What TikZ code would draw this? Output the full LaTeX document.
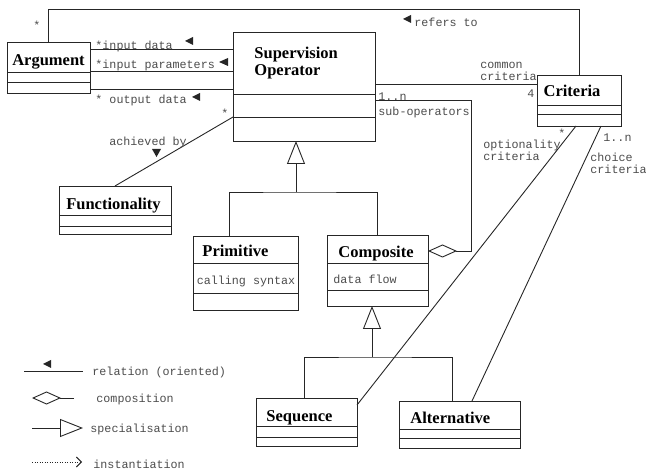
\documentclass[tikz,border=0pt]{standalone}
\usepackage{fontspec}
\setmainfont{Liberation Serif}
\setmonofont{Liberation Mono}
\usetikzlibrary{arrows.meta}

\begin{document}
\begin{tikzpicture}[x=1pt, y=-1pt, line width=0.9pt,
    cls/.style={draw=black!85, inner sep=0pt, outer sep=0pt},
    ttl/.style={font=\bfseries\fontsize{16.5}{17}\selectfont, inner sep=0pt},
    lbl/.style={font=\ttfamily\fontsize{11.7}{12}\selectfont, text=black!70, inner sep=0pt},
    rel/.style={draw=black!85},
    spec/.style={draw=black!85, -{Triangle[open, length=23pt, width=18pt]}},
    comp/.style={draw=black!85, -{Diamond[open, length=29pt, width=13pt]}}]
    \useasboundingbox (0, 0) rectangle (646, 473);

    \node[cls, minimum width=83pt, minimum height=51pt] (0) at (48.5, 67.5) {};
    \node[cls, minimum width=142pt, minimum height=109pt] (1) at (304, 86.5) {};
    \node[cls, minimum width=84pt, minimum height=51pt] (2) at (579, 100.5) {};
    \node[cls, minimum width=112pt, minimum height=48pt] (3) at (115, 210) {};
    \node[cls, minimum width=105pt, minimum height=74pt] (4) at (245.5, 273) {};
    \node[cls, minimum width=101pt, minimum height=71pt] (5) at (377.5, 270.5) {};
    \node[cls, minimum width=101pt, minimum height=48pt] (6) at (306.5, 422) {};
    \node[cls, minimum width=121pt, minimum height=47pt] (7) at (459.5, 424.5) {};

    \draw[rel] ([yshift=-30]0.north west) -- ([yshift=-30]0.north east);
    \draw[rel] ([yshift=-40]0.north west) -- ([yshift=-40]0.north east);
    \draw[rel] ([yshift=-62]1.north west) -- ([yshift=-62]1.north east);
    \draw[rel] ([yshift=-85]1.north west) -- ([yshift=-85]1.north east);
    \draw[rel] ([yshift=-30]2.north west) -- ([yshift=-30]2.north east);
    \draw[rel] ([yshift=-39]2.north west) -- ([yshift=-39]2.north east);
    \draw[rel] ([yshift=-29]3.north west) -- ([yshift=-29]3.north east);
    \draw[rel] ([yshift=-40]3.north west) -- ([yshift=-40]3.north east);
    \draw[rel] ([yshift=-27]4.north west) -- ([yshift=-27]4.north east);
    \draw[rel] ([yshift=-57]4.north west) -- ([yshift=-57]4.north east);
    \draw[rel] ([yshift=-28]5.north west) -- ([yshift=-28]5.north east);
    \draw[rel] ([yshift=-55]5.north west) -- ([yshift=-55]5.north east);
    \draw[rel] ([yshift=-28]6.north west) -- ([yshift=-28]6.north east);
    \draw[rel] ([yshift=-39]6.north west) -- ([yshift=-39]6.north east);
    \draw[rel] ([yshift=-28]7.north west) -- ([yshift=-28]7.north east);
    \draw[rel] ([yshift=-37]7.north west) -- ([yshift=-37]7.north east);

    \node[ttl, anchor=base] (t0) at (48.5, 66) {Argument};
    \node[ttl, anchor=north west, align=left] (t1) at (254, 47) {Supervision\\Operator};
    \node[ttl, anchor=base] (t2) at (572, 97) {Criteria};
    \node[ttl, anchor=base] (t3) at (113.5, 210) {Functionality};
    \node[ttl, anchor=base west] (t4) at (202, 257) {Primitive};
    \node[ttl, anchor=base] (t5) at (376, 258) {Composite};
    \node[ttl, anchor=base west] (t6) at (266, 421) {Sequence};
    \node[ttl, anchor=base west] (t7) at (410, 424) {Alternative};
    \node[lbl] (a4) at (246, 281) {calling syntax};
    \node[lbl, anchor=west] (a5) at (333, 279) {data flow};

    \coordinate (r0) at (579, 9);
    \draw[rel] (0.north) |- (r0) -- (2.north);
    \draw[rel] ([yshift=-7]0.north east) -- ([yshift=-17]1.north west);
    \draw[rel] ([yshift=-29]0.north east) -- ([yshift=-39]1.north west);
    \draw[rel] ([yshift=-47]0.north east) -- ([yshift=-57]1.north west);
    \draw[rel] ([yshift=-85]1.north west) -- (3.north);
    \draw[rel] ([yshift=-52]1.north east) -- ([yshift=-9]2.north west);
    \coordinate (r1) at (471, 100);
    \draw[comp] ([yshift=-68]1.north east) -- (r1) |- ([yshift=-16]5.north east);
    \draw[rel] ([xshift=-3]2.south) -- ([yshift=-7]6.north east);
    \draw[rel] ([xshift=22]2.south) -- ([xshift=12.5]7.north);
    \coordinate (j1) at (296, 192);
    \draw[spec] (j1) -- (1.south -| j1);
    \draw[rel] ([xshift=-16.5]4.north) |- (j1) -| (5.north);
    \coordinate (j2) at (372, 357);
    \draw[spec] (j2) -- (5.south -| j2);
    \draw[rel] ([xshift=-2.5]6.north) |- (j2) -| ([xshift=-7.5]7.north);

    \fill[black!85] (185, 41) -- ++(8, -4) -- ++(0, 8) -- cycle;
    \fill[black!85] (219, 62) -- ++(9, -4) -- ++(0, 8) -- cycle;
    \fill[black!85] (192, 97) -- ++(8, -4) -- ++(0, 8) -- cycle;
    \fill[black!85] (403, 19) -- ++(8, -4) -- ++(0, 8) -- cycle;
    \fill[black!85] (156.5, 157) -- ++(-4.5, -8) -- ++(9, 0) -- cycle;

    \node[lbl, anchor=west] (l0) at (95, 46) {*input data};
    \node[lbl, anchor=west] (l1) at (95, 65) {*input parameters};
    \node[lbl, anchor=west] (l2) at (95, 100) {* output data};
    \node[lbl] (l3) at (37, 25) {*};
    \node[lbl] (l4) at (225, 113) {*};
    \node[lbl] (l5) at (562, 133) {*};
    \node[lbl] (l6) at (148, 142) {achieved by};
    \node[lbl, anchor=west] (l7) at (414, 22) {refers to};
    \node[lbl, anchor=west, align=left] (l8) at (480, 71) {common\\criteria};
    \node[lbl] (l9) at (531, 94) {4};
    \node[lbl, anchor=west] (l10) at (378, 97) {1..n};
    \node[lbl, anchor=west] (l11) at (378, 112) {sub-operators};
    \node[lbl, anchor=west, align=left] (l12) at (483, 150) {optionality\\criteria};
    \node[lbl, anchor=west] (l13) at (603, 138) {1..n};
    \node[lbl, anchor=west, align=left] (l14) at (590, 163) {choice\\criteria};

    \coordinate (g0) at (24, 371);
    \coordinate (g1) at (83, 371);
    \draw[rel] (g0) -- (g1);
    \fill[black!85] (43, 364) -- ++(8, -4) -- ++(0, 8) -- cycle;
    \coordinate (g2) at (74, 398);
    \coordinate (g3) at (32, 398);
    \draw[comp] (g2) -- (g3);
    \coordinate (g4) at (32, 428);
    \coordinate (g5) at (83, 428);
    \draw[spec] (g4) -- (g5);
    \coordinate (g6) at (32, 462);
    \coordinate (g7) at (82, 462);
    \draw[draw=black!85, dash pattern=on 1pt off 1.5pt, -{Straight Barb[length=5pt, width=10pt]}] (g6) -- (g7);
    \node[lbl, anchor=west] (k0) at (92, 372) {relation (oriented)};
    \node[lbl, anchor=west] (k1) at (96, 399) {composition};
    \node[lbl, anchor=west] (k2) at (90, 429) {specialisation};
    \node[lbl, anchor=west] (k3) at (93, 464) {instantiation};
\end{tikzpicture}
\end{document}
